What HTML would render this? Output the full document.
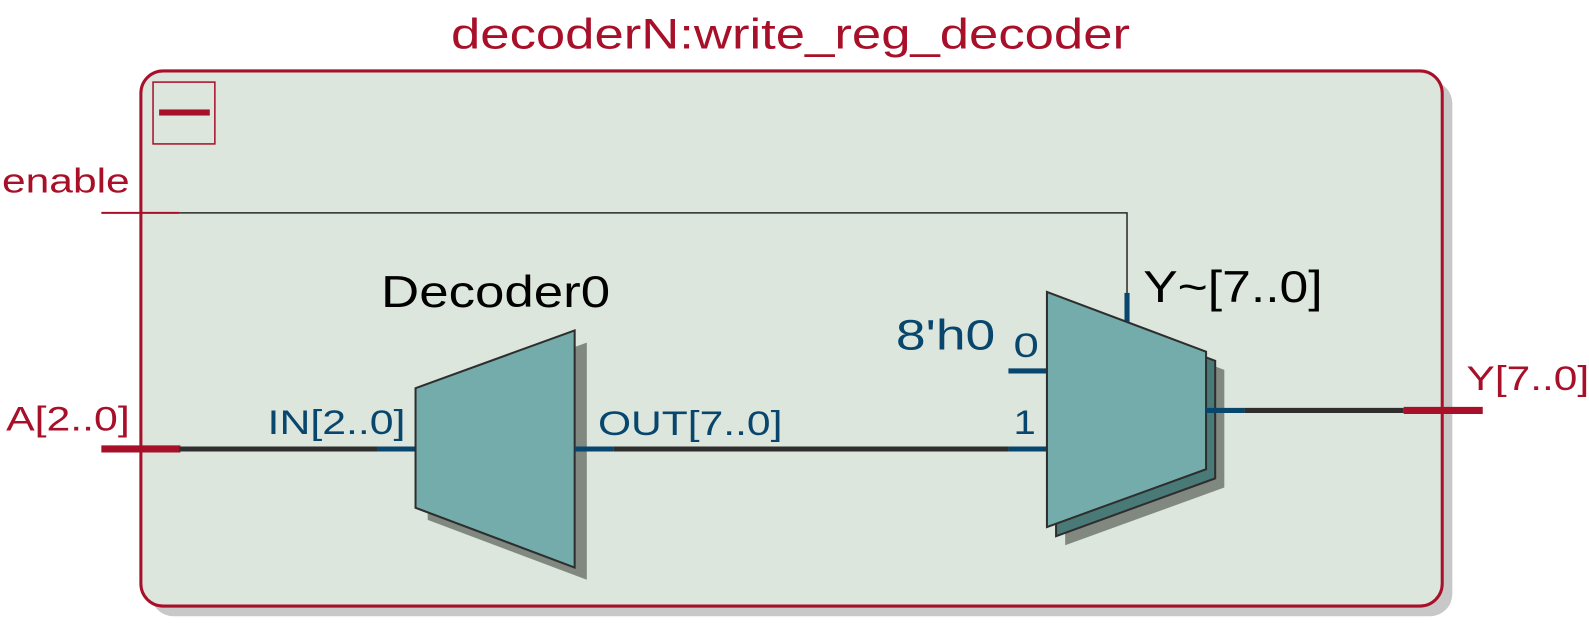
<!DOCTYPE html>
<html><head><meta charset="utf-8"><style>html,body{margin:0;padding:0;background:#fff;}svg{display:block}</style></head>
<body>
<svg width="1589" height="624" viewBox="0 0 1589 624" xmlns="http://www.w3.org/2000/svg" font-family="Liberation Sans, sans-serif">
<g transform="scale(1.0135)">
<rect x="149" y="80" width="1284" height="528" rx="22" fill="#c8c8c8"/>
<rect x="139" y="70" width="1284" height="528" rx="22" fill="#dce6dc" stroke="#a8102a" stroke-width="3"/>
<text x="780" y="48" font-size="42" fill="#a8102a" text-anchor="middle" textLength="670" lengthAdjust="spacingAndGlyphs">decoderN:write_reg_decoder</text>
<rect x="151" y="81" width="61" height="61" fill="none" stroke="#a8102a" stroke-width="1.5"/>
<rect x="157" y="108" width="50" height="6" fill="#a8102a"/>
<text x="2" y="190" font-size="34" fill="#a8102a" textLength="126" lengthAdjust="spacingAndGlyphs">enable</text>
<line x1="100" y1="210" x2="177" y2="210" stroke="#a8102a" stroke-width="2"/>
<polyline points="177,210 1112,210 1112,290" fill="none" stroke="#2a2a2a" stroke-width="1.5"/>
<line x1="1112" y1="289" x2="1112" y2="318" stroke="#08466e" stroke-width="5"/>
<text x="6" y="425" font-size="34" fill="#a8102a" textLength="122" lengthAdjust="spacingAndGlyphs">A[2..0]</text>
<line x1="100" y1="443" x2="178" y2="443" stroke="#a8102a" stroke-width="7"/>
<line x1="177" y1="443" x2="372" y2="443" stroke="#2e2e2e" stroke-width="5"/>
<line x1="372" y1="443" x2="410" y2="443" stroke="#08466e" stroke-width="5"/>
<text x="264" y="428" font-size="34" fill="#08466e" textLength="136" lengthAdjust="spacingAndGlyphs">IN[2..0]</text>
<text x="376" y="303" font-size="44" fill="#000" textLength="226" lengthAdjust="spacingAndGlyphs">Decoder0</text>
<polygon points="422,395 579,338 579,572 422,513" fill="#808880"/>
<polygon points="410,383 567,326 567,560 410,501" fill="#74acac" stroke="#2e2e2e" stroke-width="2"/>
<line x1="567" y1="443" x2="605" y2="443" stroke="#08466e" stroke-width="5"/>
<line x1="605" y1="443" x2="995" y2="443" stroke="#2e2e2e" stroke-width="5"/>
<line x1="995" y1="443" x2="1033" y2="443" stroke="#08466e" stroke-width="5"/>
<text x="590" y="429" font-size="34" fill="#08466e" textLength="182" lengthAdjust="spacingAndGlyphs">OUT[7..0]</text>
<text x="884" y="345" font-size="42" fill="#08466e" textLength="98" lengthAdjust="spacingAndGlyphs">8'h0</text>
<text x="1000" y="352" font-size="34" fill="#08466e" textLength="25" lengthAdjust="spacingAndGlyphs">0</text>
<line x1="995" y1="366" x2="1033" y2="366" stroke="#08466e" stroke-width="5"/>
<text x="1000" y="428" font-size="34" fill="#08466e" textLength="22" lengthAdjust="spacingAndGlyphs">1</text>
<text x="1128" y="298" font-size="44" fill="#000" textLength="177" lengthAdjust="spacingAndGlyphs">Y~[7..0]</text>
<polygon points="1051,306 1208,365 1208,481 1051,538" fill="#808880"/>
<polygon points="1042,297 1199,356 1199,472 1042,529" fill="#4a7a78" stroke="#2e2e2e" stroke-width="2"/>
<polygon points="1033,288 1190,347 1190,463 1033,520" fill="#74acac" stroke="#2e2e2e" stroke-width="2"/>
<line x1="1190" y1="405" x2="1228" y2="405" stroke="#08466e" stroke-width="5"/>
<line x1="1228" y1="405" x2="1385" y2="405" stroke="#2e2e2e" stroke-width="5"/>
<line x1="1385" y1="405" x2="1463" y2="405" stroke="#a8102a" stroke-width="7"/>
<text x="1447" y="385" font-size="34" fill="#a8102a" textLength="121" lengthAdjust="spacingAndGlyphs">Y[7..0]</text>
</g>
</svg>
</body></html>
